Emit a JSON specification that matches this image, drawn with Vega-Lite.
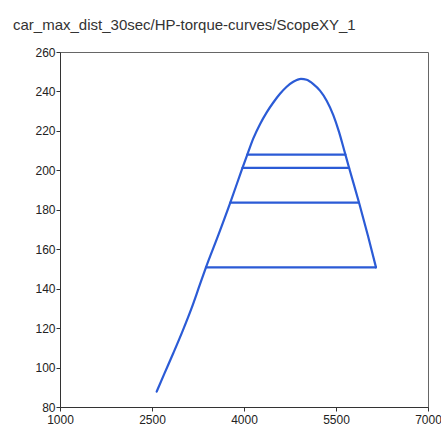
{
  "$schema": "https://vega.github.io/schema/vega-lite/v6.json",
  "autosize": {"type": "none"},
  "width": 368,
  "height": 355,
  "padding": {"left": 60, "top": 52, "right": 13, "bottom": 37},
  "background": "white",
  "title": {
    "text": "car_max_dist_30sec/HP-torque-curves/ScopeXY_1",
    "anchor": "start",
    "frame": "group",
    "dx": -47,
    "offset": 13,
    "font": "Liberation Sans",
    "fontSize": 15,
    "fontWeight": "normal",
    "color": "#333333"
  },
  "config": {
    "view": {"stroke": "#666666", "strokeWidth": 1},
    "axis": {
      "grid": false,
      "labelFont": "Liberation Sans",
      "labelFontSize": 12,
      "labelColor": "#222222",
      "domainColor": "#333333",
      "tickColor": "#333333",
      "tickSize": 4,
      "labelPadding": 1,
      "labelFlush": false,
      "format": "d",
      "title": null
    }
  },
  "data": {
    "values": [
      {"seg": "curve", "i": 0, "rpm": 2576, "hp": 87.8},
      {"seg": "curve", "i": 1, "rpm": 2700, "hp": 96.8},
      {"seg": "curve", "i": 2, "rpm": 2850, "hp": 107.5},
      {"seg": "curve", "i": 3, "rpm": 3000, "hp": 118.6},
      {"seg": "curve", "i": 4, "rpm": 3150, "hp": 130.5},
      {"seg": "curve", "i": 5, "rpm": 3280, "hp": 142.0},
      {"seg": "curve", "i": 6, "rpm": 3380, "hp": 150.8},
      {"seg": "curve", "i": 7, "rpm": 3581, "hp": 167.1},
      {"seg": "curve", "i": 8, "rpm": 3772, "hp": 183.2},
      {"seg": "curve", "i": 9, "rpm": 3962, "hp": 200.1},
      {"seg": "curve", "i": 10, "rpm": 4054, "hp": 208.0},
      {"seg": "curve", "i": 11, "rpm": 4152, "hp": 216.2},
      {"seg": "curve", "i": 12, "rpm": 4261, "hp": 223.4},
      {"seg": "curve", "i": 13, "rpm": 4370, "hp": 229.4},
      {"seg": "curve", "i": 14, "rpm": 4478, "hp": 234.4},
      {"seg": "curve", "i": 15, "rpm": 4587, "hp": 238.8},
      {"seg": "curve", "i": 16, "rpm": 4696, "hp": 242.4},
      {"seg": "curve", "i": 17, "rpm": 4804, "hp": 244.9},
      {"seg": "curve", "i": 18, "rpm": 4929, "hp": 246.4},
      {"seg": "curve", "i": 19, "rpm": 5022, "hp": 245.9},
      {"seg": "curve", "i": 20, "rpm": 5130, "hp": 243.7},
      {"seg": "curve", "i": 21, "rpm": 5239, "hp": 240.4},
      {"seg": "curve", "i": 22, "rpm": 5348, "hp": 235.3},
      {"seg": "curve", "i": 23, "rpm": 5456, "hp": 228.0},
      {"seg": "curve", "i": 24, "rpm": 5549, "hp": 219.5},
      {"seg": "curve", "i": 25, "rpm": 5630, "hp": 210.6},
      {"seg": "curve", "i": 26, "rpm": 5706, "hp": 202.1},
      {"seg": "curve", "i": 27, "rpm": 5875, "hp": 183.7},
      {"seg": "curve", "i": 28, "rpm": 6022, "hp": 166.7},
      {"seg": "curve", "i": 29, "rpm": 6152, "hp": 150.8},
      {"seg": "shift1", "i": 0, "rpm": 6152, "hp": 150.8},
      {"seg": "shift1", "i": 1, "rpm": 3380, "hp": 150.8},
      {"seg": "shift2", "i": 0, "rpm": 5875, "hp": 183.6},
      {"seg": "shift2", "i": 1, "rpm": 3777, "hp": 183.6},
      {"seg": "shift3", "i": 0, "rpm": 5714, "hp": 201.2},
      {"seg": "shift3", "i": 1, "rpm": 3975, "hp": 201.2},
      {"seg": "shift4", "i": 0, "rpm": 5653, "hp": 208.0},
      {"seg": "shift4", "i": 1, "rpm": 4054, "hp": 208.0}
    ]
  },
  "mark": {"type": "line", "color": "#2b5bd6", "strokeWidth": 2.2, "strokeCap": "round", "strokeJoin": "round", "interpolate": "monotone"},
  "encoding": {
    "x": {
      "field": "rpm",
      "type": "quantitative",
      "scale": {"domain": [1000, 7000], "nice": false, "zero": false},
      "axis": {"values": [1000, 2500, 4000, 5500, 7000], "labelPadding": 3}
    },
    "y": {
      "field": "hp",
      "type": "quantitative",
      "scale": {"domain": [80, 260], "nice": false, "zero": false},
      "axis": {"values": [80, 100, 120, 140, 160, 180, 200, 220, 240, 260]}
    },
    "detail": {"field": "seg"},
    "order": {"field": "i", "type": "quantitative"}
  }
}
